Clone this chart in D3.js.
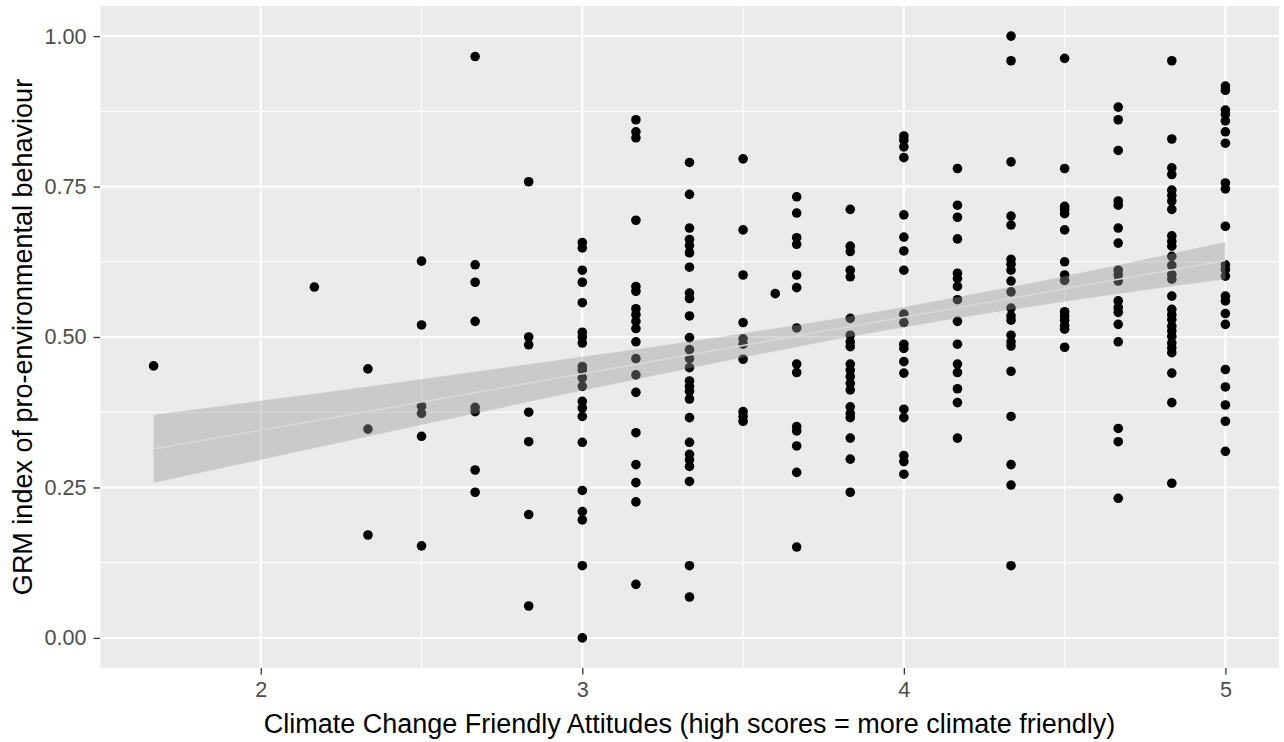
<!DOCTYPE html>
<html>
<head>
<meta charset="utf-8">
<script src="https://cdn.jsdelivr.net/npm/d3@7"></script>
<style>
  html, body { margin: 0; padding: 0; background: #ffffff; }
  svg { display: block; }
</style>
</head>
<body>
<svg id="chart" width="1284" height="742"></svg>
<script>
// Attitude score levels (x) and the GRM behaviour scores observed at each level (y)
const attitudeScores = [1.6667, 2.1667, 2.3333, 2.5, 2.6667, 2.8333, 3.0, 3.1667, 3.3333, 3.5, 3.6,
  3.6667, 3.8333, 4.0, 4.1667, 4.3333, 4.5, 4.6667, 4.8333, 5.0];

const grmScores = [
  [0.452],
  [0.583],
  [0.447, 0.347, 0.171],
  [0.626, 0.520, 0.385, 0.373, 0.335, 0.153],
  [0.966, 0.620, 0.591, 0.526, 0.383, 0.376, 0.279, 0.242],
  [0.758, 0.500, 0.487, 0.375, 0.326, 0.205, 0.053],
  [0.657, 0.648, 0.611, 0.591, 0.557, 0.508, 0.500, 0.490, 0.451, 0.445, 0.432, 0.418, 0.393, 0.382,
   0.368, 0.325, 0.245, 0.210, 0.196, 0.120, 0.000],
  [0.861, 0.841, 0.831, 0.694, 0.584, 0.576, 0.547, 0.537, 0.526, 0.514, 0.492, 0.464, 0.437, 0.408,
   0.341, 0.288, 0.258, 0.226, 0.089],
  [0.790, 0.737, 0.681, 0.662, 0.652, 0.640, 0.616, 0.573, 0.564, 0.535, 0.499, 0.479, 0.464, 0.449,
   0.427, 0.418, 0.410, 0.397, 0.366, 0.325, 0.305, 0.296, 0.285, 0.260, 0.120, 0.068],
  [0.796, 0.678, 0.603, 0.524, 0.497, 0.488, 0.463, 0.376, 0.368, 0.360],
  [0.572],
  [0.733, 0.706, 0.665, 0.654, 0.603, 0.582, 0.515, 0.455, 0.441, 0.351, 0.344, 0.319, 0.275, 0.151],
  [0.712, 0.651, 0.642, 0.611, 0.600, 0.531, 0.503, 0.492, 0.484, 0.455, 0.445, 0.434, 0.423, 0.412,
   0.384, 0.373, 0.366, 0.332, 0.297, 0.242],
  [0.834, 0.827, 0.816, 0.798, 0.703, 0.666, 0.643, 0.611, 0.538, 0.524, 0.488, 0.481, 0.459, 0.440,
   0.380, 0.366, 0.303, 0.293, 0.272],
  [0.780, 0.719, 0.699, 0.663, 0.606, 0.597, 0.584, 0.562, 0.526, 0.488, 0.455, 0.441, 0.414, 0.391, 0.332],
  [1.000, 0.959, 0.791, 0.701, 0.686, 0.629, 0.621, 0.611, 0.593, 0.575, 0.548, 0.535, 0.528, 0.503,
   0.492, 0.485, 0.443, 0.368, 0.288, 0.254, 0.120],
  [0.963, 0.780, 0.717, 0.712, 0.705, 0.678, 0.625, 0.603, 0.594, 0.542, 0.535, 0.528, 0.519, 0.513, 0.483],
  [0.882, 0.861, 0.810, 0.726, 0.719, 0.681, 0.656, 0.611, 0.603, 0.593, 0.560, 0.549, 0.541, 0.521,
   0.492, 0.348, 0.326, 0.232],
  [0.959, 0.829, 0.781, 0.770, 0.744, 0.735, 0.726, 0.712, 0.668, 0.659, 0.651, 0.634, 0.619, 0.604,
   0.596, 0.568, 0.546, 0.537, 0.529, 0.518, 0.510, 0.501, 0.490, 0.482, 0.474, 0.440, 0.391, 0.257],
  [0.917, 0.910, 0.877, 0.870, 0.859, 0.841, 0.822, 0.756, 0.746, 0.684, 0.620, 0.612, 0.601, 0.568,
   0.560, 0.539, 0.521, 0.446, 0.417, 0.387, 0.360, 0.310]
];

// Linear fit with its 95% confidence band
const smoothX     = [1.6667, 2.0, 2.5, 3.0, 3.5, 4.0, 4.5, 5.0];
const smoothFit   = [0.314, 0.345, 0.392, 0.439, 0.486, 0.533, 0.580, 0.627];
const smoothLower = [0.258, 0.296, 0.354, 0.411, 0.466, 0.516, 0.559, 0.596];
const smoothUpper = [0.371, 0.394, 0.430, 0.467, 0.506, 0.550, 0.601, 0.658];

// Axis breaks
const xMajor = [2, 3, 4, 5];
const xMinor = [1.5, 2.5, 3.5, 4.5];
const yMajor = [0, 0.25, 0.5, 0.75, 1.0];
const yMinor = [0.125, 0.375, 0.625, 0.875];

const xTitle = "Climate Change Friendly Attitudes (high scores = more climate friendly)";
const yTitle = "GRM index of pro-environmental behaviour";

const points = [];
attitudeScores.forEach((x, i) => grmScores[i].forEach(y => points.push({ x, y })));

const smooth = smoothX.map((x, i) => ({ x, fit: smoothFit[i], lo: smoothLower[i], hi: smoothUpper[i] }));

const panel = { left: 100, right: 1279, top: 6, bottom: 668 };
const font = "'Liberation Sans', Arial, Helvetica, sans-serif";

const x = d3.scaleLinear().domain([1.5, 5.1667]).range([panel.left, panel.right]);
const y = d3.scaleLinear().domain([-0.05, 1.05]).range([panel.bottom, panel.top]);

const svg = d3.select("#chart");
svg.append("rect").attr("width", 1284).attr("height", 742).attr("fill", "#ffffff");

// Panel background
svg.append("rect")
  .attr("x", panel.left).attr("y", panel.top)
  .attr("width", panel.right - panel.left).attr("height", panel.bottom - panel.top)
  .attr("fill", "#ebebeb");

const grid = svg.append("g");
grid.selectAll(".xminor").data(xMinor).join("line")
  .attr("x1", d => x(d)).attr("x2", d => x(d))
  .attr("y1", panel.top).attr("y2", panel.bottom)
  .attr("stroke", "#ffffff").attr("stroke-width", 1);
grid.selectAll(".yminor").data(yMinor).join("line")
  .attr("y1", d => y(d)).attr("y2", d => y(d))
  .attr("x1", panel.left).attr("x2", panel.right)
  .attr("stroke", "#ffffff").attr("stroke-width", 1);
grid.selectAll(".xmajor").data(xMajor).join("line")
  .attr("x1", d => x(d)).attr("x2", d => x(d))
  .attr("y1", panel.top).attr("y2", panel.bottom)
  .attr("stroke", "#ffffff").attr("stroke-width", 2);
grid.selectAll(".ymajor").data(yMajor).join("line")
  .attr("y1", d => y(d)).attr("y2", d => y(d))
  .attr("x1", panel.left).attr("x2", panel.right)
  .attr("stroke", "#ffffff").attr("stroke-width", 2);

// Observations
svg.append("g").selectAll("circle").data(points).join("circle")
  .attr("cx", d => x(d.x)).attr("cy", d => y(d.y))
  .attr("r", 4.8).attr("fill", "#000000");

// Confidence band and fitted line
const band = d3.area()
  .x(d => x(d.x)).y0(d => y(d.lo)).y1(d => y(d.hi))
  .curve(d3.curveMonotoneX);
svg.append("path").datum(smooth)
  .attr("d", band)
  .attr("fill", "#999999").attr("fill-opacity", 0.4);

const fitLine = d3.line().x(d => x(d.x)).y(d => y(d.fit));
svg.append("path").datum(smooth)
  .attr("d", fitLine)
  .attr("fill", "none").attr("stroke", "#d9d9d9").attr("stroke-width", 1.5);

// Axes
const xAxis = d3.axisBottom(x).tickValues(xMajor).tickFormat(d3.format("d")).tickSize(6.5).tickPadding(7);
const gx = svg.append("g").attr("transform", `translate(0,${panel.bottom})`).call(xAxis);
const yAxis = d3.axisLeft(y).tickValues(yMajor).tickFormat(d3.format(".2f")).tickSize(6.5).tickPadding(7);
const gy = svg.append("g").attr("transform", `translate(${panel.left},0)`).call(yAxis);

[gx, gy].forEach(g => {
  g.select(".domain").remove();
  g.selectAll(".tick line").attr("stroke", "#333333").attr("stroke-width", 1.3);
  g.selectAll(".tick text")
    .attr("fill", "#4d4d4d")
    .style("font-family", font)
    .style("font-size", "21.6px");
});

// Axis titles
svg.append("text")
  .attr("x", (panel.left + panel.right) / 2).attr("y", 733)
  .attr("text-anchor", "middle")
  .style("font-family", font).style("font-size", "27px")
  .attr("fill", "#000000")
  .text(xTitle);

svg.append("text")
  .attr("transform", `translate(32,${(panel.top + panel.bottom) / 2}) rotate(-90)`)
  .attr("text-anchor", "middle")
  .style("font-family", font).style("font-size", "27px")
  .attr("fill", "#000000")
  .text(yTitle);
</script>
</body>
</html>
